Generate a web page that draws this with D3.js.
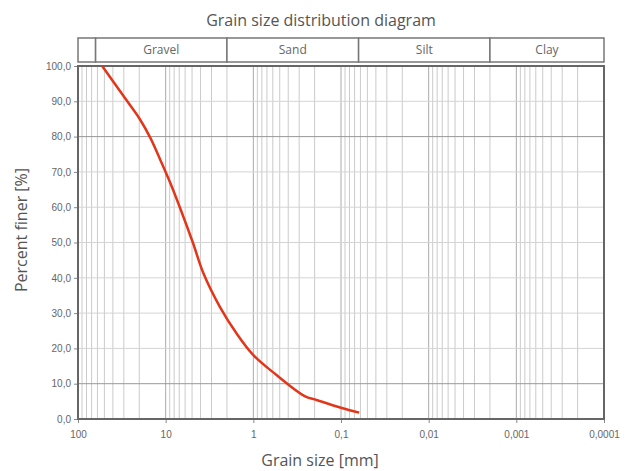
<!DOCTYPE html>
<html>
<head>
<meta charset="utf-8">
<script src="https://cdn.jsdelivr.net/npm/d3@7"></script>
<style>
  body { margin: 0; background: #fff; }
  svg { display: block; font-family: "Open Sans", "Noto Sans", sans-serif; }
</style>
</head>
<body>
<svg id="chart" width="634" height="471"></svg>
<script>
// grain size (mm) and percent passing
const grainSize = [53, 27.4, 20, 15, 11.6, 8.9, 6.9, 4.9, 3.7, 2.4, 1.55, 1.0, 0.54, 0.26, 0.19, 0.1, 0.062];
const percentFiner = [100, 90, 85.2, 79.7, 73.6, 67, 60, 50, 41.2, 31.7, 24.2, 18.1, 12.4, 6.5, 5.4, 3.2, 1.8];

// soil classes in the header band, bounded by sizes in mm
const classNames = ["", "Gravel", "Sand", "Silt", "Clay"];
const classBounds = [100, 63, 2, 0.063, 0.002, 0.0001];

const xTickValues = [100, 10, 1, 0.1, 0.01, 0.001, 0.0001];
const xTickLabels = ["100", "10", "1", "0,1", "0,01", "0,001", "0,0001"];
const yTickValues = [0, 10, 20, 30, 40, 50, 60, 70, 80, 90, 100];
const yTickLabels = ["0,0", "10,0", "20,0", "30,0", "40,0", "50,0", "60,0", "70,0", "80,0", "90,0", "100,0"];
const darkRows = [80, 10];

const margin = {left: 78, right: 30, top: 66, bottom: 52};
const width = 634 - margin.left - margin.right;
const height = 471 - margin.top - margin.bottom;
const textColor = "#666";

const svg = d3.select("#chart");
const g = svg.append("g")
    .attr("transform", "translate(" + margin.left + "," + margin.top + ")");

const xScale = d3.scaleLog().domain([100, 0.0001]).range([0, width]);
const yScale = d3.scaleLinear().domain([0, 100]).range([height, 0]);

// vertical log grid: 1..9 in every decade
const gridX = xScale.ticks().filter(d => d <= 100 && d >= 0.0001);
g.append("g").selectAll("line")
    .data(gridX)
    .enter().append("line")
    .attr("x1", d => xScale(d)).attr("x2", d => xScale(d))
    .attr("y1", 0).attr("y2", height)
    .attr("stroke", d => xTickValues.some(v => Math.abs(v - d) / v < 1e-6) ? "#aaa" : "#cbcbcb")
    .attr("stroke-width", 1);

// horizontal grid
g.append("g").selectAll("line")
    .data(yTickValues.filter(v => v > 0 && v < 100))
    .enter().append("line")
    .attr("x1", 0).attr("x2", width)
    .attr("y1", d => yScale(d)).attr("y2", d => yScale(d))
    .attr("stroke", d => darkRows.includes(d) ? "#999" : "#d4d4d4")
    .attr("stroke-width", 1);

// y axis ticks and labels
const yAxis = d3.axisLeft(yScale)
    .tickValues(yTickValues)
    .tickFormat((d, i) => yTickLabels[i])
    .tickSize(4)
    .tickPadding(3);
const yg = g.append("g").call(yAxis);
yg.select(".domain").remove();
yg.selectAll("line").attr("stroke", "#888");
yg.selectAll("text").attr("fill", textColor).style("font-size", "10px");

// x axis ticks and labels
const xAxis = d3.axisBottom(xScale)
    .tickValues(xTickValues)
    .tickFormat((d, i) => xTickLabels[i])
    .tickSize(4)
    .tickPadding(8);
const xg = g.append("g").attr("transform", "translate(0," + height + ")").call(xAxis);
xg.select(".domain").remove();
xg.selectAll("line").attr("stroke", "#888");
xg.selectAll("text").attr("fill", textColor).style("font-size", "10px");

// frame
g.append("rect")
    .attr("x", 0).attr("y", 0)
    .attr("width", width).attr("height", height)
    .attr("fill", "none")
    .attr("stroke", "#666")
    .attr("stroke-width", 2);

// grading curve
const points = grainSize.map((d, i) => ({d: d, p: percentFiner[i]}));
const line = d3.line()
    .x(a => xScale(a.d))
    .y(a => yScale(a.p))
    .curve(d3.curveCatmullRom.alpha(0.5));
g.append("path")
    .datum(points)
    .attr("d", line)
    .attr("fill", "none")
    .attr("stroke", "#e2361b")
    .attr("stroke-width", 2.5)
    .attr("stroke-linejoin", "round");

// header band with soil classes
const bandTop = -28, bandH = 24;
const band = g.append("g");
classNames.forEach((name, i) => {
    const x0 = xScale(classBounds[i]), x1 = xScale(classBounds[i + 1]);
    band.append("rect")
        .attr("x", x0).attr("y", bandTop)
        .attr("width", x1 - x0).attr("height", bandH)
        .attr("fill", "#fff")
        .attr("stroke", "#777")
        .attr("stroke-width", 1.5);
    band.append("text")
        .attr("x", (x0 + x1) / 2)
        .attr("y", bandTop + bandH / 2 + 4)
        .attr("text-anchor", "middle")
        .attr("fill", textColor)
        .style("font-size", "12px")
        .text(name);
});

// titles
svg.append("text")
    .attr("x", 321).attr("y", 26)
    .attr("text-anchor", "middle")
    .attr("fill", "#555")
    .style("font-size", "16px")
    .text("Grain size distribution diagram");

svg.append("text")
    .attr("x", 320).attr("y", 466)
    .attr("text-anchor", "middle")
    .attr("fill", "#555")
    .style("font-size", "16px")
    .text("Grain size [mm]");

svg.append("text")
    .attr("transform", "translate(27,230) rotate(-90)")
    .attr("text-anchor", "middle")
    .attr("fill", "#555")
    .style("font-size", "16px")
    .text("Percent finer [%]");
</script>
</body>
</html>
